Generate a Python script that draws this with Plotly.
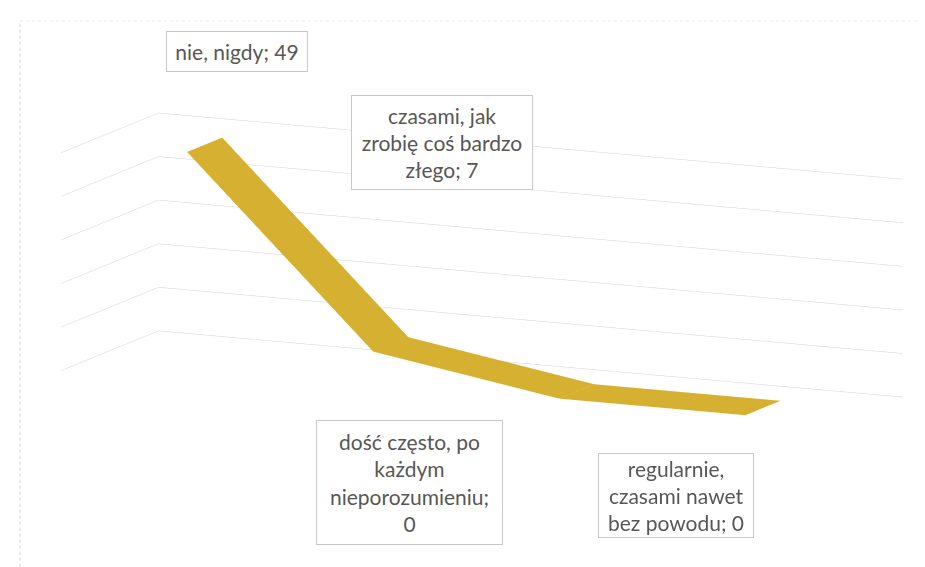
import numpy as np
import plotly.graph_objects as go

# ---------------- data ----------------
categories = [
    "nie, nigdy",
    "czasami, jak zrobię coś bardzo złego",
    "dość często, po każdym nieporozumieniu",
    "regularnie, czasami nawet bez powodu",
]
values = [49, 7, 0, 0]
label_names = [
    "nie, nigdy",
    "czasami, jak<br>zrobię coś bardzo<br>złego",
    "dość często, po<br>każdym<br>nieporozumieniu",
    "regularnie,<br>czasami nawet<br>bez powodu",
]
label_seps = ["; ", "; ", ";<br>", "; "]
z_ticks = [0, 10, 20, 30, 40, 50]

# ---------------- style ----------------
RIBBON = "#D6B131"
TEXT = "#575757"
GRID = "#d3d3d3"
FONT = "Lato"

x_pos = np.arange(len(values)) + 0.5
depth = [0.34, 0.70]
Z = np.array([values, values], dtype=float)

fig = go.Figure(
    go.Surface(
        x=x_pos, y=depth, z=Z,
        surfacecolor=np.zeros_like(Z),
        colorscale=[[0, RIBBON], [1, RIBBON]],
        showscale=False,
        lighting=dict(ambient=1, diffuse=0, specular=0, roughness=1, fresnel=0),
        hoverinfo="skip",
        contours=dict(x=dict(highlight=False), y=dict(highlight=False), z=dict(highlight=False)),
    )
)

# label placement (pixel shifts from their data points) and box sizes
shifts = [(34, 94), (53, 203), (-165, -90), (-85, -87)]
boxes = [(138, 37), (178, 91), (183, 121), (152, 81)]
annotations = []
for i, (name, sep, v) in enumerate(zip(label_names, label_seps, values)):
    annotations.append(dict(
        x=x_pos[i], y=0.5, z=v,
        text=f"{name}{sep}{v}",
        showarrow=False,
        xshift=shifts[i][0], yshift=shifts[i][1],
        width=boxes[i][0], height=boxes[i][1],
        bordercolor="#c8c8c8", borderwidth=1, bgcolor="white",
        font=dict(family=FONT, size=21, color=TEXT),
        align="center", valign="middle",
    ))

alpha = np.radians(25)
phi = np.radians(11)
d = 3.0
c = np.array([-0.0315, -0.027, -0.057])
eye = c + d * np.array([np.cos(phi) * np.sin(alpha), -np.cos(phi) * np.cos(alpha), np.sin(phi)])

zoom = 1 / 1.277
hidden = dict(visible=False, showgrid=False, showspikes=False)
fig.update_layout(
    width=925, height=567,
    margin=dict(l=0, r=0, t=0, b=0),
    paper_bgcolor="white",
    showlegend=False,
    scene=dict(
        domain=dict(x=[0, 1], y=[0, 1]),
        xaxis=dict(range=[0, len(values)], **hidden),
        yaxis=dict(range=[0, 1], **hidden),
        zaxis=dict(range=[0, 50], tickvals=z_ticks, showgrid=True, gridcolor=GRID, gridwidth=1,
                   showticklabels=False, ticks="", showline=False, zeroline=False,
                   showbackground=False, showspikes=False, title=dict(text="")),
        aspectmode="manual",
        aspectratio=dict(x=3.7 * zoom, y=1.04 * zoom, z=1.0 * zoom),
        camera=dict(eye=dict(x=eye[0], y=eye[1], z=eye[2]),
                    center=dict(x=c[0], y=c[1], z=c[2]),
                    up=dict(x=0, y=0, z=1),
                    projection=dict(type="orthographic")),
        annotations=annotations,
        bgcolor="white",
    ),
    shapes=[
        dict(type="line", xref="paper", yref="paper", x0=0.013, x1=0.013, y0=0.004, y1=0.977,
             line=dict(color="#d4d4d4", width=1, dash="dot")),
        dict(type="line", xref="paper", yref="paper", x0=0.013, x1=1, y0=0.977, y1=0.977,
             line=dict(color="#ececec", width=1, dash="dot")),
        dict(type="line", xref="paper", yref="paper", x0=0.0, x1=0.72, y0=0.004, y1=0.004,
             line=dict(color="#a8a8a8", width=1, dash="dot")),
    ],
)

fig.write_html("out.html")
